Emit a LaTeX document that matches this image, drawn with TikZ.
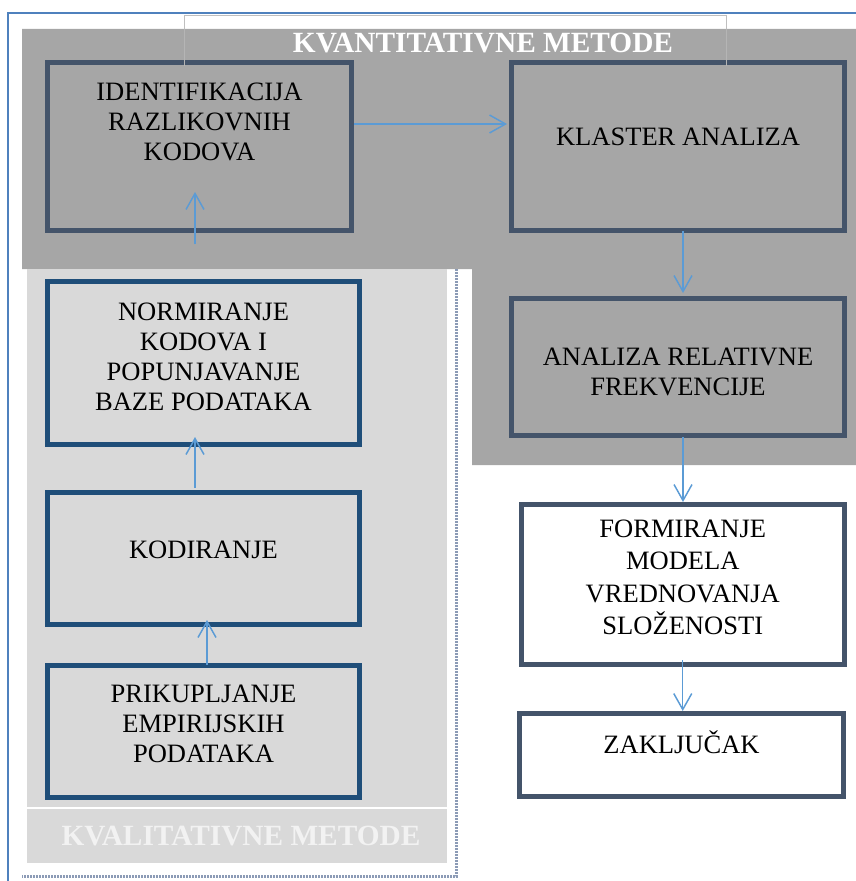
\documentclass[tikz,border=0pt]{standalone}
\usepackage{fontspec}
\setmainfont{Liberation Serif}
\usetikzlibrary{arrows.meta,calc}

\definecolor{darkfill}{RGB}{166,166,166}
\definecolor{lightfill}{RGB}{217,217,217}
\definecolor{topline}{RGB}{68,84,106}
\definecolor{lowline}{RGB}{31,78,121}
\definecolor{arrowblue}{RGB}{91,155,213}
\definecolor{frameblue}{RGB}{79,129,189}
\definecolor{dotblue}{RGB}{140,155,182}
\definecolor{boxedge}{RGB}{191,191,191}

\tikzset{
  quantbox/.style={draw=topline, line width=3.75pt, fill=darkfill, inner sep=0pt},
  qualbox/.style={draw=lowline, line width=3.75pt, fill=lightfill, inner sep=0pt},
  endbox/.style={draw=topline, line width=3.75pt, fill=white, inner sep=0pt},
  boxtext/.style={align=center, inner sep=0pt, font=\fontsize{19.9pt}{22.5pt}\selectfont},
  titletext/.style={inner sep=0pt, font=\fontsize{22pt}{26pt}\selectfont\bfseries},
  flow/.style={draw=arrowblue, line width=1.1pt, -{Straight Barb[length=12pt,width=13.5pt]}},
}

\begin{document}
\begin{tikzpicture}[x=0.75pt,y=0.75pt,yscale=-1,xscale=1]
\useasboundingbox (0,0) rectangle (856,881);

%Shape: Frame lines
\draw [frameblue, line width=1.5pt] (8,881) -- (8,13) -- (856,13);
%Shape: Quantitative area
\fill [darkfill] (22,29) -- (856,29) -- (856,465) -- (472,465) -- (472,269) -- (22,269) -- cycle;
%Shape: Qualitative area
\fill [lightfill] (27,269) rectangle (447,807);
\fill [lightfill] (27,809) rectangle (447,863);
%Shape: Dotted border
\draw [dotblue, line width=2.25pt, dash pattern=on 1.5pt off 0.75pt] (456.5,269) -- (456.5,876.5) -- (22,876.5);

%Shape: Boxes
\node [quantbox, minimum width=228pt, minimum height=126pt] (ident) at (199.5,146.5) {};
\node [quantbox, minimum width=249.75pt, minimum height=126pt] (klaster) at (678,146.5) {};
\node [quantbox, minimum width=249.75pt, minimum height=102.75pt] (analiza) at (678,367) {};
\node [endbox, minimum width=241.9pt, minimum height=120pt] (formiranje) at (682.75,584.5) {};
\node [endbox, minimum width=243pt, minimum height=62.25pt] (zakljucak) at (681.5,755) {};
\node [qualbox, minimum width=234pt, minimum height=121.9pt] (normiranje) at (203.5,363.25) {};
\node [qualbox, minimum width=234pt, minimum height=99pt] (kodiranje) at (203.5,558.5) {};
\node [qualbox, minimum width=234pt, minimum height=99pt] (prikupljanje) at (203.5,731.5) {};

%Shape: Title frame
\draw [boxedge, line width=0.75pt] (184,29) -- (184,16) -- (726,16) -- (726,29);
\draw [boxedge!60!darkfill, line width=0.75pt] (184,29) -- (184,66) (726,29) -- (726,66);

% Text Node
\node [boxtext] (identtxt) at ($(ident.center)+(0,-24.5)$) {IDENTIFIKACIJA\\RAZLIKOVNIH\\KODOVA};
% Text Node
\node [boxtext] (klastertxt) at ($(klaster.center)+(0,-9.5)$) {KLASTER ANALIZA};
% Text Node
\node [boxtext] (analizatxt) at ($(analiza.center)+(0,5)$) {ANALIZA RELATIVNE\\FREKVENCIJE};
% Text Node
\node [boxtext, font=\fontsize{19.9pt}{24.3pt}\selectfont] (formiranjetxt) at ($(formiranje.center)+(0,-7)$) {FORMIRANJE\\MODELA\\VREDNOVANJA\\SLOŽENOSTI};
% Text Node
\node [boxtext] (zakljucaktxt) at ($(zakljucak.center)+(0,-13)$) {ZAKLJUČAK};
% Text Node
\node [boxtext] (normiranjetxt) at ($(normiranje.center)+(0,-6.25)$) {NORMIRANJE\\KODOVA I\\POPUNJAVANJE\\BAZE PODATAKA};
% Text Node
\node [boxtext] (kodiranjetxt) at ($(kodiranje.center)+(0,-8.5)$) {KODIRANJE};
% Text Node
\node [boxtext] (prikupljanjetxt) at ($(prikupljanje.center)+(0,-8)$) {PRIKUPLJANJE\\EMPIRIJSKIH\\PODATAKA};

% Text Node
\node [titletext, white] (quanttitle) at (483,43) {KVANTITATIVNE METODE};
% Text Node
\node [titletext, white!95!black] (qualtitle) at (241,836) {KVALITATIVNE METODE};

%Straight Lines: arrows
\draw [flow] ($(ident.east)+(0,-22.5)$) -- ($(klaster.west)+(-2,-22.5)$);
\draw [flow] ($(ident.south)+(-4.5,11)$) -- ($(ident.south)+(-4.5,-41)$);
\draw [flow] ($(kodiranje.north)+(-8.5,-2)$) -- ($(normiranje.south)+(-8.5,-10)$);
\draw [flow] ($(prikupljanje.north)+(3.5,2)$) -- ($(kodiranje.south)+(3.5,-7)$);
\draw [flow] ($(klaster.south)+(5,-2)$) -- ($(analiza.north)+(5,-3)$);
\draw [flow] ($(analiza.south)+(5,-1)$) -- ($(analiza.south)+(5,64)$);
\draw [flow] ($(formiranje.south)+(0,-7)$) -- (formiranje.south |- zakljucak.north);

\end{tikzpicture}
\end{document}
